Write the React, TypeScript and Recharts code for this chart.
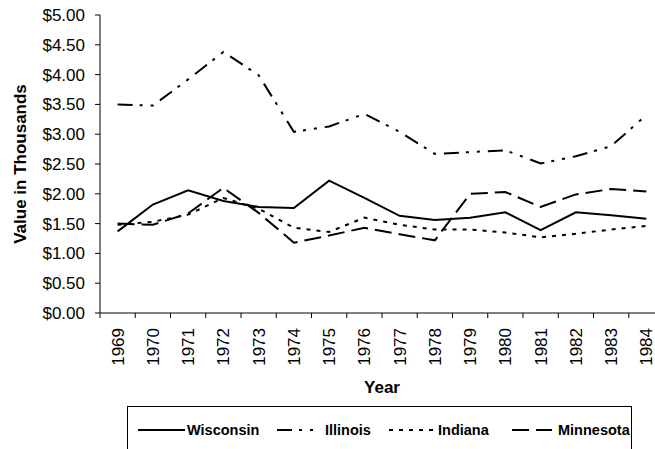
import React from 'react';
import { LineChart, Line, XAxis, YAxis } from 'recharts';

const years = [1969, 1970, 1971, 1972, 1973, 1974, 1975, 1976, 1977, 1978, 1979, 1980, 1981, 1982, 1983, 1984];
const wisconsin = [1.37, 1.82, 2.06, 1.88, 1.78, 1.76, 2.22, 1.93, 1.63, 1.56, 1.60, 1.69, 1.39, 1.69, 1.64, 1.58];
const illinois = [3.50, 3.48, 3.92, 4.38, 3.99, 3.04, 3.13, 3.34, 3.04, 2.67, 2.70, 2.73, 2.51, 2.63, 2.80, 3.32];
const indiana = [1.48, 1.53, 1.65, 1.93, 1.75, 1.43, 1.36, 1.60, 1.48, 1.40, 1.40, 1.35, 1.27, 1.33, 1.40, 1.46];
const minnesota = [1.50, 1.48, 1.67, 2.10, 1.68, 1.18, 1.30, 1.43, 1.32, 1.22, 2.00, 2.03, 1.78, 1.99, 2.08, 2.04];
const yTicks = [0, 0.5, 1, 1.5, 2, 2.5, 3, 3.5, 4, 4.5, 5];

const series = [
  { key: 'Wisconsin', values: wisconsin, dash: undefined as string | undefined },
  { key: 'Illinois', values: illinois, dash: '15 7 3 8 3 8' },
  { key: 'Indiana', values: indiana, dash: '4 6' },
  { key: 'Minnesota', values: minnesota, dash: '17 7' },
];

const data = years.map((y, i) => {
  const row: any = { year: y };
  series.forEach((s) => (row[s.key] = s.values[i]));
  return row;
});

const xTicks: number[] = [];
years.forEach((y) => {
  xTicks.push(y - 0.5);
  xTicks.push(y);
});
xTicks.push(years[years.length - 1] + 0.5);

const FONT = '"Liberation Sans", Arial, sans-serif';
const TICK_SIZE = 5;
const TICK_MARGIN = 10;

const XTick = (props: any) => {
  const { x, y, payload } = props;
  const v = payload.value;
  if (!Number.isInteger(v)) {
    const ay = y - TICK_SIZE - TICK_MARGIN;
    return <line x1={x} y1={ay} x2={x} y2={ay + TICK_SIZE} stroke="#000" strokeWidth={1} />;
  }
  return (
    <text
      x={x}
      y={y}
      transform={`rotate(-90, ${x}, ${y})`}
      textAnchor="end"
      dy="0.36em"
      fontSize={17}
      fontFamily={FONT}
      fill="#000"
    >
      {v}
    </text>
  );
};

const legendLayout = [
  { sampleLeft: 138, sampleRight: 185, textLeft: 187 },
  { sampleLeft: 277, sampleRight: 319, textLeft: 325 },
  { sampleLeft: 389, sampleRight: 436, textLeft: 438 },
  { sampleLeft: 512, sampleRight: 552, textLeft: 558 },
];

export default function App() {
  return (
    <div style={{ position: 'absolute', left: 0, top: 0, width: 655, height: 449, overflow: 'hidden', background: '#fff' }}>
      <LineChart width={700} height={449} data={data} margin={{ top: 15, right: 36, bottom: 0, left: 0 }}>
        <XAxis
          dataKey="year"
          type="number"
          domain={[years[0] - 0.5, years[years.length - 1] + 0.5]}
          ticks={xTicks}
          interval={0}
          height={136}
          tickLine={false}
          tickSize={TICK_SIZE}
          tickMargin={TICK_MARGIN}
          axisLine={{ stroke: '#000' }}
          tick={<XTick />}
          label={{ value: 'Year', position: 'insideTop', offset: 68, style: { fontSize: 17, fontWeight: 'bold', fontFamily: FONT, fill: '#000' } }}
        />
        <YAxis
          type="number"
          domain={[0, 5]}
          ticks={yTicks}
          interval={0}
          width={100}
          tickSize={TICK_SIZE}
          tickMargin={TICK_MARGIN}
          axisLine={{ stroke: '#000' }}
          tickLine={{ stroke: '#000' }}
          tick={{ fontSize: 17, fontFamily: FONT, fill: '#000' }}
          tickFormatter={(v: number) => `$${v.toFixed(2)}`}
          label={{ value: 'Value in Thousands', angle: -90, position: 'insideLeft', offset: 20, style: { textAnchor: 'middle', fontSize: 17, fontWeight: 'bold', fontFamily: FONT, fill: '#000' } }}
        />
        {series.map((s) => (
          <Line
            key={s.key}
            dataKey={s.key}
            stroke="#000"
            strokeWidth={2}
            strokeDasharray={s.dash}
            dot={false}
            activeDot={false}
            isAnimationActive={false}
          />
        ))}
      </LineChart>
      <div style={{ position: 'absolute', left: 127, top: 406, width: 505, height: 80, border: '1px solid #000', boxSizing: 'border-box' }} />
      <svg style={{ position: 'absolute', left: 0, top: 0 }} width={655} height={449}>
        {series.map((s, i) => (
          <g key={s.key}>
            <line
              x1={legendLayout[i].sampleLeft}
              x2={legendLayout[i].sampleRight}
              y1={430}
              y2={430}
              stroke="#000"
              strokeWidth={2}
              strokeDasharray={s.dash}
            />
            <text x={legendLayout[i].textLeft} y={430} dy="0.36em" fontSize={14.5} fontWeight="bold" fontFamily={FONT} fill="#000">
              {s.key}
            </text>
          </g>
        ))}
      </svg>
    </div>
  );
}
